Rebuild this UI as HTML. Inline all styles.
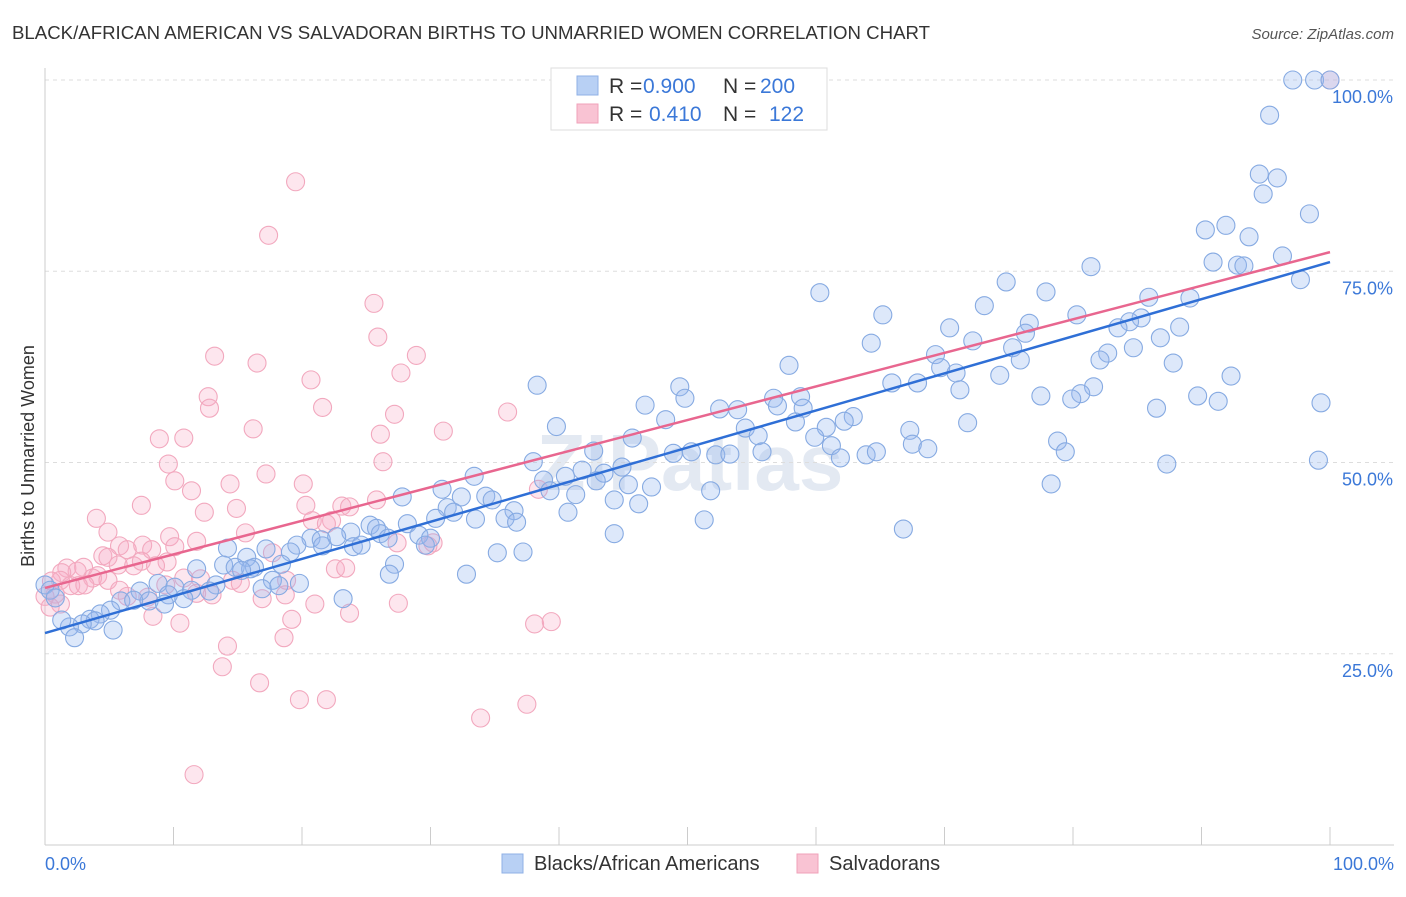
<!DOCTYPE html>
<html><head><meta charset="utf-8"><style>
body{margin:0;background:#fff;font-family:"Liberation Sans",sans-serif;}
svg text{font-family:"Liberation Sans",sans-serif;}
</style></head><body>
<svg id="chart" width="1406" height="892">
<text x="12" y="39" font-size="18" fill="#333" textLength="918" lengthAdjust="spacingAndGlyphs">BLACK/AFRICAN AMERICAN VS SALVADORAN BIRTHS TO UNMARRIED WOMEN CORRELATION CHART</text>
<text x="1394" y="39" font-size="15" fill="#555" font-style="italic" text-anchor="end">Source: ZipAtlas.com</text>
<text x="34" y="456" font-size="18" fill="#333" text-anchor="middle" transform="rotate(-90 34 456)">Births to Unmarried Women</text>
<text x="690" y="490" font-size="80" fill="#c8d4e6" opacity="0.5" text-anchor="middle" font-weight="bold">ZIPatlas</text>
<g id="grid"></g>
<g id="lines"></g>
<g id="pts"></g>
<g>
<rect x="551" y="68" width="276" height="62" fill="#fff" stroke="#ddd"/>
<rect x="577" y="76" width="21" height="19" fill="#b8d0f4" stroke="#8fb0e6"/>
<rect x="577" y="104" width="21" height="19" fill="#f9c3d3" stroke="#f0a2ba"/>
<text x="609" y="93" font-size="21" fill="#333">R =</text>
<text x="643" y="93" font-size="21" fill="#3b78d8">0.900</text>
<text x="723" y="93" font-size="21" fill="#333">N =</text>
<text x="760" y="93" font-size="21" fill="#3b78d8">200</text>
<text x="609" y="121" font-size="21" fill="#333">R =</text>
<text x="649" y="121" font-size="21" fill="#3b78d8">0.410</text>
<text x="723" y="121" font-size="21" fill="#333">N =</text>
<text x="769" y="121" font-size="21" fill="#3b78d8">122</text>
</g>
<g>
<rect x="502" y="854" width="21" height="19" fill="#b8d0f4" stroke="#8fb0e6"/>
<text x="534" y="870" font-size="20" fill="#333">Blacks/African Americans</text>
<rect x="797" y="854" width="21" height="19" fill="#f9c3d3" stroke="#f0a2ba"/>
<text x="829" y="870" font-size="20" fill="#333">Salvadorans</text>
</g>
</svg>
<script>
const blueX=[97.1,98.8,100,95.3,94.5,95.9,94.8,98.4,91.9,90.3,93.7,96.3,90.9,92.8,93.3,97.7,81.4,74.8,77.9,60.3,85.9,89.1,73.1,65.2,80.3,76.6,85.3,84.4,83.5,70.4,88.3,76.3,86.8,72.2,64.3,75.3,84.7,82.7,75.9,82.1,69.3,87.8,69.7,57.9,70.9,92.3,74.3,71.2,81.6,65.9,67.9,38.3,49.4,80.6,77.5,79.9,89.7,91.3,99.3,49.8,58.8,56.7,46.7,53.9,52.5,57,59,86.5,62.9,62.2,71.8,58.4,48.3,39.8,54.5,60.8,67.3,55.5,45.7,59.9,61.2,78.8,67.5,68.7,55.8,48.9,50.3,52.2,53.3,63.9,64.7,61.9,79.4,42.7,38,99.1,87.3,44.9,41.8,43.5,33.4,40.5,42.9,38.8,45.4,78.3,47.2,30.9,39.3,41.3,51.8,27.8,32.4,34.3,34.8,46.2,44.3,31.3,40.7,31.8,30.4,36.5,33.5,35.8,36.7,51.3,28.2,25.3,25.8,44.3,66.8,23.8,29.1,26.1,20.7,21.5,22.7,26.7,30,29.6,19.6,21.6,24,24.6,14.2,17.2,19.1,35.2,37.2,15.7,18.4,27.2,11.8,13.9,14.8,16.3,16,15.3,32.8,26.8,17.7,19.8,18.2,16.9,8.8,10.1,13.3,11.4,12.8,7.4,9.6,10.8,23.2,5.9,8.1,6.9,9.3,0,0.4,0.8,5.1,4.3,3.5,3.9,2.9,1.9,1.3,5.3,2.3];
const blueY=[100,100,100,95.4,87.7,87.2,85.1,82.5,81,80.4,79.5,77,76.2,75.8,75.7,73.9,75.6,73.6,72.3,72.2,71.6,71.5,70.5,69.3,69.3,68.2,68.9,68.4,67.6,67.6,67.7,66.9,66.3,65.9,65.6,65,65,64.3,63.4,63.4,64.1,63,62.4,62.7,61.7,61.3,61.4,59.5,59.9,60.4,60.4,60.1,59.9,59,58.7,58.3,58.7,58,57.8,58.4,58.6,58.4,57.5,56.9,57,57.4,57.1,57.1,56,55.4,55.2,55.3,55.6,54.7,54.5,54.6,54.2,53.5,53.2,53.3,52.2,52.8,52.4,51.8,51.4,51.2,51.4,51,51.1,51,51.4,50.6,51.4,51.5,50.1,50.3,49.8,49.4,49,48.6,48.2,48.2,47.6,47.7,47.1,47.2,46.8,46.5,46.3,45.8,46.3,45.5,45.5,45.6,45.1,44.6,45.1,44.1,43.5,43.5,42.7,43.7,42.6,42.7,42.2,42.5,42,41.8,41.4,40.7,41.3,40.9,40.5,40.7,40.1,39.9,40.3,40.1,40.1,39.2,39.2,39.1,39,39.2,38.8,38.7,38.3,38.2,38.3,37.6,36.7,36.7,36.1,36.6,36.3,36.3,36.1,35.9,35.4,35.4,34.6,34.2,33.9,33.5,34.2,33.7,34,33.3,33.2,33.2,32.7,32.2,32.2,31.9,31.9,32,31.5,34,33.3,32.3,30.7,30.2,29.5,29.3,28.9,28.5,29.4,28.1,27.1];
const pinkX=[100,19.5,17.4,25.6,25.9,28.9,13.2,16.5,27.7,20.7,12.7,12.8,21.6,27.2,36,16.2,31,26.1,8.9,10.8,26.3,9.6,17.2,10.1,20.1,14.4,11.4,38.4,25.8,23.1,23.7,20.3,7.5,14.9,12.4,4,20.8,22.3,21.9,15.6,4.9,9.7,11.8,7.6,10.1,30.2,27.4,29.8,5.8,6.4,8.3,4.5,4.9,17.7,7.5,9.5,5.7,6.9,8.6,3,1.7,2.5,1.3,4.1,3.7,1.2,10.8,12.1,22.6,23.4,0.5,4.9,2.6,2,9.4,14.6,15.2,18.8,5.8,6.4,8,11.8,13,0,0.8,1.2,0.4,16.9,18.7,21,27.5,8.4,19.2,23.7,10.5,38.1,39.4,18.6,14.2,13.8,16.7,19.8,21.9,33.9,37.5,11.6,3.1];
const pinkY=[100,86.7,79.7,70.8,66.4,64,63.9,63,61.7,60.8,58.6,57.1,57.2,56.3,56.6,54.4,54.1,53.7,53.1,53.2,50.1,49.8,48.5,47.6,47.2,47.2,46.3,46.5,45.1,44.3,44.2,44.4,44.4,44,43.5,42.7,42.4,42.4,42,40.8,40.9,40.3,39.7,39.2,39,39.5,39.5,39.1,39.1,38.6,38.6,37.8,37.6,38.2,37.1,37,36.6,36.5,36.5,36.3,36.2,35.8,35.6,35.2,34.9,34.6,34.9,34.8,36.1,36.2,34.5,34.6,33.9,33.9,34,34.6,34.2,34.6,33.3,32.5,32.4,32.9,32.7,32.5,32.8,31.5,31.1,32.2,32.7,31.5,31.6,29.9,29.5,30.3,29,28.9,29.2,27.1,26,23.3,21.2,19,19,16.6,18.4,9.2,34];
const trendBlue=[27.7,76.2];
const trendPink=[33.6,77.5];
const yTicks=[25,50,75,100];
const xTickLabels=["0.0%","100.0%"];

const NS="http://www.w3.org/2000/svg";
const X0=45,X1=1330,Y0=845,Y100=80;
const sx=v=>X0+(X1-X0)*v/100;
const sy=v=>Y0-(Y0-Y100)*v/100;
function mk(t,a,p){const e=document.createElementNS(NS,t);for(const k in a)e.setAttribute(k,a[k]);p.appendChild(e);return e;}
const grid=document.getElementById('grid');
yTicks.forEach(t=>{
  const l=mk('line',{x1:X0,x2:1394,y1:sy(t),y2:sy(t),stroke:'#ddd','stroke-dasharray':'4,4'},grid);
  
  
  const tx=mk('text',{x:1393,y:sy(t)+23,'font-size':18,fill:'#3b78d8','text-anchor':'end'},grid);
  tx.textContent=t.toFixed(1)+'%';
  
  
});
const ax=mk('line',{x1:X0,x2:X0,y1:68,y2:Y0,stroke:'#ccc'},grid);


const bx=mk('line',{x1:X0,x2:1394,y1:Y0,y2:Y0,stroke:'#ccc'},grid);


for(let i=0;i<=10;i++){
  const t=mk('line',{x1:sx(i*10),x2:sx(i*10),y1:Y0,y2:Y0-18,stroke:'#ccc'},grid);
  
  
}
[[0,'start',X0],[100,'end',1394]].forEach((d,i)=>{
  const tx=mk('text',{x:d[2],y:870,'font-size':18,fill:'#3b78d8','text-anchor':d[1]},grid);
  tx.textContent=xTickLabels[i];
  
  
});
const pts=document.getElementById('pts');
function drawPts(xs,ys,fill,stroke,name){
  xs.forEach((x,i)=>{
    const c=mk('circle',{cx:sx(x),cy:sy(ys[i]),r:9,fill:fill,stroke:stroke,'stroke-width':1.1},pts);
    
    
  });
}
drawPts(pinkX,pinkY,'rgba(247,172,198,0.3)','#f2a8be','salvadoran-point');
drawPts(blueX,blueY,'rgba(150,185,240,0.32)','#86aae2','black-point');
const lines=document.getElementById('lines');
const lb=mk('line',{x1:sx(0),y1:sy(trendBlue[0]),x2:sx(100),y2:sy(trendBlue[1]),stroke:'#2f6fd6','stroke-width':2.5},lines);


const lp=mk('line',{x1:sx(0),y1:sy(trendPink[0]),x2:sx(100),y2:sy(trendPink[1]),stroke:'#e8668f','stroke-width':2.5},lines);


document.getElementById('chart').appendChild(lines);
</script>
</body></html>
